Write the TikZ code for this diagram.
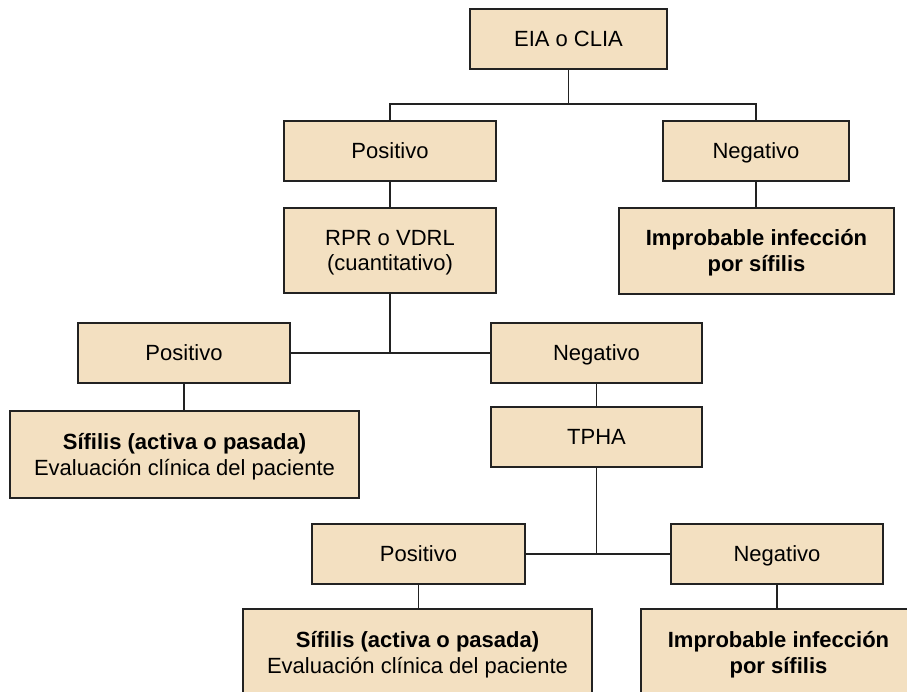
\documentclass[tikz,border=0pt]{standalone}
\usepackage{fontspec}
\setmainfont{Liberation Sans}
\definecolor{boxfill}{RGB}{243,224,193}
\definecolor{linecol}{RGB}{34,34,34}
\begin{document}
\begin{tikzpicture}[x=1pt,y=-1pt,
  box/.style={draw=linecol, line width=1.3pt, fill=boxfill, inner sep=0pt,
    font=\fontsize{22}{25.5}\selectfont, align=center, text=black,
    text depth=0pt},
  one/.style={box, text height=15.5pt},
  two/.style={box, text height=41pt},
  boldbox/.style={font=\fontsize{22}{25.5}\selectfont\bfseries},
  conn/.style={draw=linecol, line width=1.2pt}]
\useasboundingbox (0,0) rectangle (907,692);
\clip (0,0) rectangle (907,692);
\fill[white] (0,0) rectangle (907,692);

\node[one, minimum width=197pt, minimum height=60pt] (eia) at (568.5,39) {EIA o CLIA};
\node[one, minimum width=212pt, minimum height=60pt] (pos1) at (390,151) {Positivo};
\node[one, minimum width=186pt, minimum height=60pt] (neg1) at (756,151) {Negativo};
\node[two, minimum width=212pt, minimum height=85pt] (rpr) at (390,250.5) {RPR o VDRL\\(cuantitativo)};
\node[two, boldbox, minimum width=275pt, minimum height=86pt] (imp1) at (756.5,251) {Improbable infección\\por sífilis};
\node[one, minimum width=212pt, minimum height=60pt] (pos2) at (184,353) {Positivo};
\node[one, minimum width=211pt, minimum height=60pt] (neg2) at (596.5,353) {Negativo};
\node[two, minimum width=349pt, minimum height=87pt] (sif1) at (184.5,454.5) {\textbf{Sífilis (activa o pasada)}\\Evaluación clínica del paciente};
\node[one, minimum width=211pt, minimum height=60pt] (tpha) at (596.5,437) {TPHA};
\node[one, minimum width=213pt, minimum height=60pt] (pos3) at (418.5,554) {Positivo};
\node[one, minimum width=212pt, minimum height=60pt] (neg3) at (777,554) {Negativo};
\node[two, minimum width=349pt, minimum height=87pt] (sif2) at (417.5,652.5) {\textbf{Sífilis (activa o pasada)}\\Evaluación clínica del paciente};
\node[two, boldbox, minimum width=275pt, minimum height=87pt] (imp2) at (778.5,652.5) {Improbable infección\\por sífilis};

\coordinate (j1) at (568.5,104);
\draw[conn] (eia.south) -- (j1);
\draw[conn] (pos1.north) |- (j1) -| (neg1.north);
\draw[conn] (pos1.south) -- (rpr.north);
\draw[conn] (neg1.south) -- (imp1.north -| neg1.south);
\draw[conn] (rpr.south) -- (rpr.south |- pos2.east);
\draw[conn] (pos2.east) -- (neg2.west);
\draw[conn] (pos2.south) -- (pos2.south |- sif1.north);
\draw[conn] (neg2.south) -- (tpha.north);
\draw[conn] (tpha.south) -- (tpha.south |- pos3.east);
\draw[conn] (pos3.east) -- (neg3.west);
\draw[conn] (pos3.south) -- (pos3.south |- sif2.north);
\draw[conn] (neg3.south) -- (neg3.south |- imp2.north);
\end{tikzpicture}
\end{document}
